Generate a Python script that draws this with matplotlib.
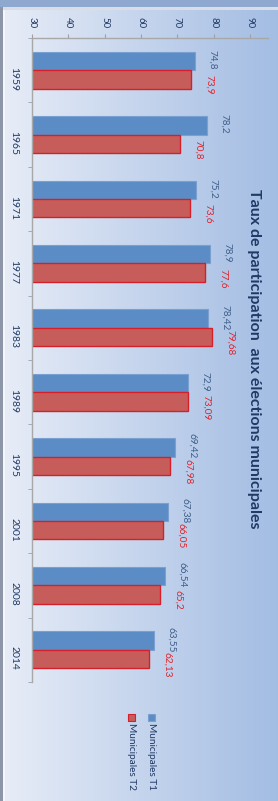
import numpy as np
import matplotlib
matplotlib.use("Agg")
import matplotlib.pyplot as plt
from matplotlib.patches import Rectangle

years = ["1959", "1965", "1971", "1977", "1983", "1989", "1995", "2001", "2008", "2014"]
t1 = [74.8, 78.2, 75.2, 78.9, 78.42, 72.9, 69.42, 67.38, 66.54, 63.55]
t2 = [73.9, 70.8, 73.6, 77.6, 79.68, 73.09, 67.98, 66.05, 65.2, 62.13]
series = ["Municipales T1", "Municipales T2"]
title = "Taux de participation  aux élections municipales"

plt.rcParams['font.family'] = ['Lato', 'DejaVu Sans']

W, H = 278, 801
fig = plt.figure(figsize=(W / 100, H / 100), dpi=100)

# background gradient (chart is drawn rotated a quarter turn)
bg = fig.add_axes([0, 0, 1, 1], zorder=0)
grad = np.linspace(0, 1, 256).reshape(1, -1)
c0 = np.array([0.91, 0.93, 0.97])
c1 = np.array([0.64, 0.74, 0.89])
img = c0[None, None, :] * (1 - grad[..., None]) + c1[None, None, :] * grad[..., None]
bg.imshow(img, aspect='auto', extent=[0, 1, 0, 1])
bg.set_xlim(0, 1)
bg.set_ylim(0, 1)
bg.axis('off')
# window frame
bg.add_patch(Rectangle((0, 1 - 7 / H), 1, 7 / H, color='#8ea8d0', lw=0))
bg.add_patch(Rectangle((0, 1 - 10 / H), 1, 3 / H, color='#d8dde6', lw=0))
bg.add_patch(Rectangle((0, 0), 3 / W, 1 - 7 / H, color='#8c96a8', lw=0))
bg.add_patch(Rectangle((3 / W, 0), 2 / W, 1 - 10 / H, color='#f4f6fa', lw=0))

ax = fig.add_axes([32 / W, (H - 682) / H, 236 / W, 644 / H], zorder=1)
ax.set_facecolor('none')

y = np.arange(len(years))
h = 0.285
blue, red = '#5b8cc5', '#c75d5a'
ax.barh(y - h / 2, t1, height=h, left=0, color=blue, edgecolor='#7aa0d2', lw=0.8, zorder=2)
ax.barh(y + h / 2, t2, height=h, left=0, color=red, edgecolor='#d4202a', lw=1.0, zorder=2)

ax.set_xlim(30, 95)
ax.set_ylim(len(years) - 0.5, -0.5)

for i in range(len(years)):
    ax.text(t1[i] + 3.6, y[i] - h / 2 - 0.02, f"{t1[i]:g}".replace('.', ','), rotation=-90,
            ha='left', va='center', fontsize=7.2, color='#3f5f8a')
    ax.text(t2[i] + 3.8, y[i] + h / 2 + 0.09, f"{t2[i]:g}".replace('.', ','), rotation=-90,
            ha='left', va='center', fontsize=7.2, color='#e0242c')

ax.xaxis.tick_top()
ax.set_xticks(range(30, 100, 10))
ax.tick_params(axis='x', direction='out', length=3, color='#a0a0a0', pad=4,
               labelrotation=-90, labelsize=7, labelcolor='#1f3a66')
ax.set_yticks(y)
ax.set_yticklabels(years)
ax.set_yticks(np.arange(len(years) + 1) - 0.5, minor=True)
ax.tick_params(axis='y', which='major', length=0, pad=10, labelrotation=-90,
               labelsize=7.5, labelcolor='#1f3a66')
ax.tick_params(axis='y', which='minor', length=3, color='#a0a0a0', direction='out')
for s in ['right', 'bottom']:
    ax.spines[s].set_visible(False)
for s in ['top', 'left']:
    ax.spines[s].set_color('#a8a8a8')
    ax.spines[s].set_linewidth(1)

fig.text(254 / W, 1 - 359 / H, title, rotation=-90, ha='center', va='center',
         fontsize=11.5, fontweight='bold', color='#1f3a66')

# legend
for k, (name, col, ec) in enumerate(zip(series, [blue, red], ['#7aa0d2', '#d4202a'])):
    xc = [151.5, 131.5][k]
    fig.patches.append(Rectangle(((xc - 3.5) / W, 1 - 721 / H), 7 / W, 7 / H, facecolor=col,
                                 edgecolor=ec, lw=0.8, transform=fig.transFigure, figure=fig))
    fig.text(xc / W, 1 - 723 / H, name, rotation=-90, ha='center', va='top',
             fontsize=7.2, color='#1f3a66')

fig.savefig("out.png", dpi=100)
